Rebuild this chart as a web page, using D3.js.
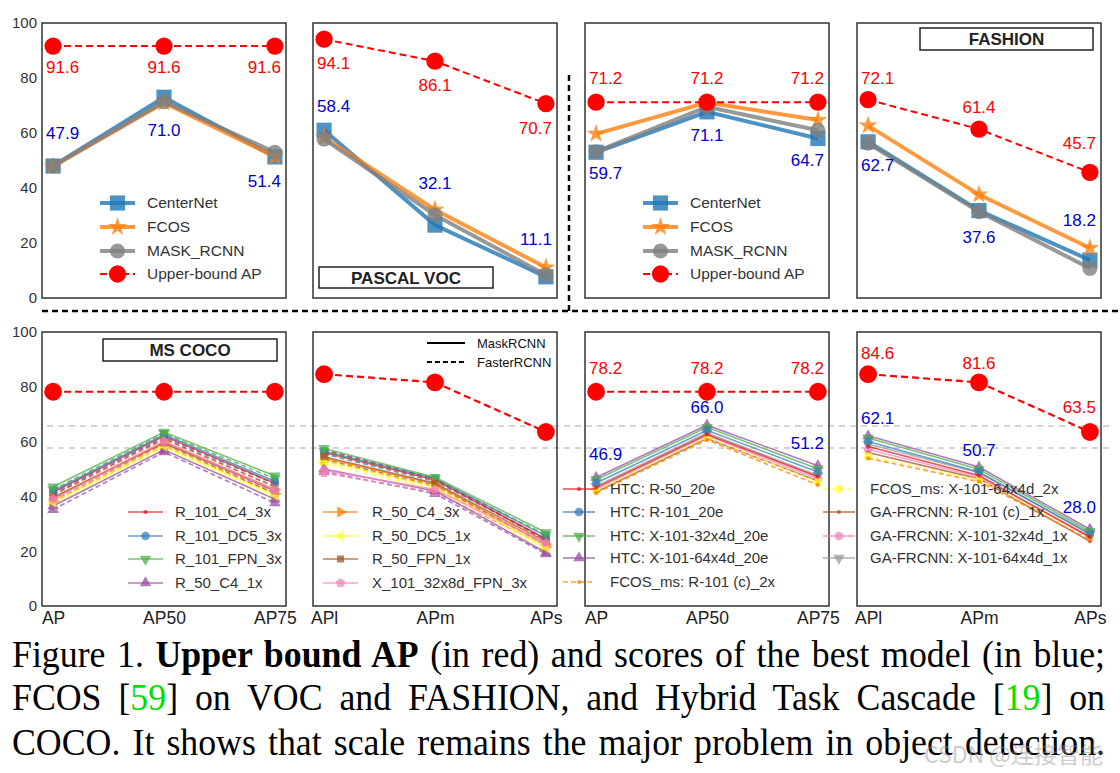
<!DOCTYPE html>
<html>
<head>
<meta charset="utf-8">
<script src="https://cdn.jsdelivr.net/npm/d3@7"></script>
<style>
  body { margin: 0; background: #fff; }
  svg { display: block; }
</style>
</head>
<body>
<div id="mountNode"></div>
<script>
// ---- categories / ticks
const apCats = ["AP", "AP50", "AP75"];
const sizeCats = ["APl", "APm", "APs"];
const yTicks = [0, 20, 40, 60, 80, 100];

// ---- top row (VOC + FASHION), CenterNet / FCOS / MASK_RCNN / upper bound
const topSeries = ["CenterNet", "FCOS", "MASK_RCNN", "Upper-bound AP"];
const vocApCenterNet = [48.0, 73.0, 51.3];
const vocApFcos = [47.9, 71.0, 51.4];
const vocApMask = [48.0, 71.4, 53.0];
const vocApUpper = [91.6, 91.6, 91.6];
const vocSizeCenterNet = [61.0, 26.5, 7.7];
const vocSizeFcos = [58.4, 32.1, 11.1];
const vocSizeMask = [57.8, 30.2, 8.4];
const vocSizeUpper = [94.1, 86.1, 70.7];
const fashionApCenterNet = [53.0, 67.7, 58.0];
const fashionApFcos = [59.7, 71.1, 64.7];
const fashionApMask = [53.2, 69.5, 61.0];
const fashionApUpper = [71.2, 71.2, 71.2];
const fashionSizeCenterNet = [56.8, 31.8, 13.8];
const fashionSizeFcos = [62.7, 37.6, 18.2];
const fashionSizeMask = [56.3, 31.4, 10.8];
const fashionSizeUpper = [72.1, 61.4, 45.7];

// ---- bottom row (MS COCO)
const cocoApUpper = [78.2, 78.2, 78.2];
const cocoSizeUpper = [84.6, 81.6, 63.5];

// detectron2 models, solid = MaskRCNN, dashed = FasterRCNN
const d2Models = ["R_101_C4_3x", "R_101_DC5_3x", "R_101_FPN_3x", "R_50_C4_1x",
  "R_50_C4_3x", "R_50_DC5_1x", "R_50_FPN_1x", "X_101_32x8d_FPN_3x"];
const d2MaskAp = [
  [41.5, 62.0, 44.8], [42.0, 62.5, 45.5], [43.5, 63.5, 47.5], [36.5, 57.0, 39.0],
  [39.5, 60.0, 42.5], [38.0, 58.5, 40.5], [39.5, 59.5, 42.0], [39.0, 60.0, 42.3]];
const d2FasterAp = [
  [40.5, 61.0, 43.5], [41.0, 61.5, 44.5], [42.5, 63.0, 46.5], [35.2, 56.2, 37.6],
  [38.3, 59.2, 41.0], [37.0, 57.8, 39.8], [38.0, 58.5, 41.0], [38.5, 59.5, 41.5]];
const d2MaskSize = [
  [56.0, 46.0, 24.5], [56.5, 46.5, 25.5], [57.5, 47.0, 26.8], [50.0, 42.0, 19.5],
  [54.0, 44.5, 22.5], [53.0, 43.5, 21.5], [54.5, 44.8, 23.5], [49.5, 42.5, 23.0]];
const d2FasterSize = [
  [57.0, 46.5, 24.0], [55.5, 45.5, 24.5], [56.5, 46.2, 26.0], [49.0, 41.0, 19.0],
  [53.0, 43.5, 21.5], [52.0, 42.5, 20.5], [53.5, 44.0, 22.5], [48.5, 41.5, 22.0]];

// mmdetection models (HTC best)
const mmModels = ["HTC: R-50_20e", "HTC: R-101_20e", "HTC: X-101-32x4d_20e", "HTC: X-101-64x4d_20e",
  "FCOS_ms: R-101 (c)_2x", "FCOS_ms: X-101-64x4d_2x", "GA-FRCNN: R-101 (c)_1x",
  "GA-FRCNN: X-101-32x4d_1x", "GA-FRCNN: X-101-64x4d_1x"];
const mmAp = [
  [43.2, 62.6, 47.2], [44.9, 64.1, 48.9], [46.1, 65.2, 50.1], [46.9, 66.0, 51.2],
  [41.2, 60.6, 44.2], [42.2, 61.6, 45.2], [41.6, 61.2, 45.6], [42.6, 62.2, 46.4], [43.7, 63.2, 47.6]];
const mmSize = [
  [58.2, 47.6, 25.2], [60.0, 48.9, 26.2], [61.3, 49.9, 27.2], [62.1, 50.7, 28.0],
  [53.9, 45.4, 24.2], [54.6, 46.1, 25.6], [56.0, 46.4, 23.6], [57.1, 47.1, 25.1], [59.1, 48.6, 26.6]];
const mmBest = 3;

// gray reference lines on COCO row
const cocoGuides = [65.7, 57.7];

// ================= drawing
const W = 1120, H = 773;
const FONT = "'Liberation Sans', Arial, sans-serif";
const svg = d3.select("#mountNode").append("svg").attr("width", W).attr("height", H);

const colX = [42, 313, 585, 857], panelW = 244;
const rowY = [23, 332], panelH = [275, 274];

// pentagon marker
const symbolPentagon = {
  draw(ctx, size) {
    const r = Math.sqrt(size / 2.378);
    for (let i = 0; i < 5; i++) {
      const a = -Math.PI / 2 + i * 2 * Math.PI / 5;
      i ? ctx.lineTo(r * Math.cos(a), r * Math.sin(a)) : ctx.moveTo(r * Math.cos(a), r * Math.sin(a));
    }
    ctx.closePath();
  }
};
const markers = {
  square: [d3.symbolSquare, 0], star: [d3.symbolStar, 0], circle: [d3.symbolCircle, 0],
  dot: [d3.symbolCircle, 0], triUp: [d3.symbolTriangle, 0], triDown: [d3.symbolTriangle, 180],
  triRight: [d3.symbolTriangle, 90], triLeft: [d3.symbolTriangle, -90], pent: [symbolPentagon, 0]
};

function marker(g, mk, size, x, y, color, op) {
  const [type, rot] = markers[mk];
  g.append("path")
    .attr("d", d3.symbol(type, size)())
    .attr("transform", `translate(${x},${y}) rotate(${rot})`)
    .attr("fill", color).attr("fill-opacity", op);
}

function drawSeries(g, x, y, cats, vals, st) {
  const line = d3.line().x((d, i) => x(cats[i])).y(d => y(d));
  g.append("path").attr("d", line(vals))
    .attr("fill", "none").attr("stroke", st.color).attr("stroke-width", st.width)
    .attr("stroke-opacity", st.op).attr("stroke-dasharray", st.dash || null);
  vals.forEach((v, i) => marker(g, st.mk, st.size, x(cats[i]), y(v), st.color, st.op));
}

function legend(g, items, x0, x1, textX, ys, fs) {
  items.forEach((st, i) => {
    g.append("line").attr("x1", x0).attr("x2", x1).attr("y1", ys[i]).attr("y2", ys[i])
      .attr("stroke", st.color).attr("stroke-width", st.width).attr("stroke-opacity", st.op)
      .attr("stroke-dasharray", st.dash || null);
    marker(g, st.mk, st.size, (x0 + x1) / 2, ys[i], st.color, st.op);
    g.append("text").attr("x", textX).attr("y", ys[i]).attr("dy", "0.35em")
      .style("font-family", FONT).style("font-size", fs + "px").attr("fill", "#333").text(st.name);
  });
}

function titleBox(g, label, x0, y0, x1, y1) {
  g.append("rect").attr("x", x0).attr("y", y0).attr("width", x1 - x0).attr("height", y1 - y0)
    .attr("fill", "#fff").attr("stroke", "#222").attr("stroke-width", 1.5);
  g.append("text").attr("x", (x0 + x1) / 2).attr("y", (y0 + y1) / 2).attr("dy", "0.36em")
    .attr("text-anchor", "middle").style("font-family", FONT).style("font-size", "17px")
    .style("font-weight", "bold").attr("fill", "#222").text(label);
}

const anchors = ["start", "middle", "end"], anchorDx = [-7, 0, 6];
function valueLabels(g, x, y, cats, vals, dys, color) {
  vals.forEach((v, i) => {
    g.append("text").attr("x", x(cats[i]) + anchorDx[i]).attr("y", y(v) + dys[i]).attr("dy", "0.36em")
      .attr("text-anchor", anchors[i]).style("font-family", FONT).style("font-size", "17px")
      .attr("fill", color).text(v.toFixed(1));
  });
}

function scales(col, row, cats) {
  const x = d3.scalePoint().domain(cats).range([colX[col], colX[col] + panelW]).padding(0.1);
  const y = d3.scaleLinear().domain([0, 100]).range([rowY[row] + panelH[row], rowY[row]]);
  return { x, y };
}

// gray guides first (behind everything)
{
  const y = d3.scaleLinear().domain([0, 100]).range([rowY[1] + panelH[1], rowY[1]]);
  cocoGuides.forEach(v => svg.append("line").attr("x1", 47).attr("x2", 1112)
    .attr("y1", y(v)).attr("y2", y(v)).attr("stroke", "#c8c8c8").attr("stroke-width", 1.5)
    .attr("stroke-dasharray", "6,5"));
}

// frames + y axis
[0, 1].forEach(row => {
  colX.forEach(cx => svg.append("rect").attr("x", cx).attr("y", rowY[row]).attr("width", panelW)
    .attr("height", panelH[row]).attr("fill", "none").attr("stroke", "#333").attr("stroke-width", 1.5));
  const y = d3.scaleLinear().domain([0, 100]).range([rowY[row] + panelH[row], rowY[row]]);
  const ax = svg.append("g").attr("transform", `translate(${colX[0]},0)`)
    .call(d3.axisLeft(y).tickValues(yTicks).tickSize(0).tickPadding(5));
  ax.select(".domain").remove();
  ax.selectAll("text").style("font-family", FONT).style("font-size", "15px").attr("fill", "#333");
});

// x axis labels, bottom row
[apCats, sizeCats, apCats, sizeCats].forEach((cats, c) => {
  const { x } = scales(c, 1, cats);
  const ax = svg.append("g").attr("transform", `translate(0,${rowY[1] + panelH[1]})`)
    .call(d3.axisBottom(x).tickSize(0).tickPadding(6));
  ax.select(".domain").remove();
  ax.selectAll("text").style("font-family", FONT).style("font-size", "17.5px").attr("fill", "#222");
});

// ---- top row
const topStyles = [
  { name: topSeries[0], color: "#1f77b4", mk: "square", size: 230, width: 4, op: 0.8 },
  { name: topSeries[1], color: "#ff7f0e", mk: "star", size: 110, width: 4, op: 0.8 },
  { name: topSeries[2], color: "#7f7f7f", mk: "circle", size: 180, width: 4, op: 0.8 },
  { name: topSeries[3], color: "#ff0000", mk: "circle", size: 235, width: 2, op: 1, dash: "7,4" }
];
const topPanels = [
  { col: 0, cats: apCats, data: [vocApCenterNet, vocApFcos, vocApMask, vocApUpper],
    redDy: [21, 21, 21], blueDy: [-33, 27, 24], legend: [100, 135, 147] },
  { col: 1, cats: sizeCats, data: [vocSizeCenterNet, vocSizeFcos, vocSizeMask, vocSizeUpper],
    redDy: [24, 24, 24], blueDy: [-32, -27, -29] },
  { col: 2, cats: apCats, data: [fashionApCenterNet, fashionApFcos, fashionApMask, fashionApUpper],
    redDy: [-24, -24, -24], blueDy: [39, 32, 40], legend: [643, 678, 690] },
  { col: 3, cats: sizeCats, data: [fashionSizeCenterNet, fashionSizeFcos, fashionSizeMask, fashionSizeUpper],
    redDy: [-22, -22, -29], blueDy: [39, 42, -28] }
];
topPanels.forEach(p => {
  const g = svg.append("g");
  const { x, y } = scales(p.col, 0, p.cats);
  p.data.forEach((vals, i) => drawSeries(g, x, y, p.cats, vals, topStyles[i]));
  valueLabels(g, x, y, p.cats, p.data[3], p.redDy, "#ff0000");
  valueLabels(g, x, y, p.cats, p.data[1], p.blueDy, "#0000cd");
  if (p.legend) legend(g, topStyles, p.legend[0], p.legend[1], p.legend[2], [203, 227, 251, 274], 15.5);
});
titleBox(svg, "PASCAL VOC", 319, 267, 493, 288);
titleBox(svg, "FASHION", 920, 28, 1093, 50);

// ---- bottom row
const set1 = ["#e41a1c", "#377eb8", "#4daf4a", "#984ea3", "#ff7f00", "#ffff33", "#a65628", "#f781bf", "#999999"];
const d2Marks = ["dot", "circle", "triDown", "triUp", "triRight", "triLeft", "square", "pent"];
const mmMarks = ["dot", "circle", "triDown", "triUp", "dot", "circle", "dot", "circle", "triDown"];
const mSize = mk => mk === "dot" ? 14 : (mk === "square" ? 50 : 58);
const upperStyle = { color: "#ff0000", mk: "circle", size: 250, width: 2.2, op: 1, dash: "7,4" };

const d2Solid = d2Models.map((n, i) => ({ name: n, color: set1[i], mk: d2Marks[i], size: mSize(d2Marks[i]), width: 1.6, op: 0.75 }));
const d2Dash = d2Solid.map(s => Object.assign({}, s, { dash: "5,3" }));
const mmStyles = mmModels.map((n, i) => ({ name: n, color: set1[i], mk: mmMarks[i], size: mSize(mmMarks[i]),
  width: 1.6, op: 0.75, dash: (i === 4 || i === 5) ? "5,3" : null }));

const legRows = [512, 536, 559, 583];
const mmRows = [489, 512, 536, 558, 582];

// panel 1: COCO AP
{
  const g = svg.append("g");
  const { x, y } = scales(0, 1, apCats);
  d2Dash.forEach((s, i) => drawSeries(g, x, y, apCats, d2FasterAp[i], s));
  d2Solid.forEach((s, i) => drawSeries(g, x, y, apCats, d2MaskAp[i], s));
  drawSeries(g, x, y, apCats, cocoApUpper, upperStyle);
  legend(g, d2Solid.slice(0, 4), 128, 163, 175, legRows, 15);
  titleBox(g, "MS COCO", 103, 339, 277, 361);
}
// panel 2: COCO size
{
  const g = svg.append("g");
  const { x, y } = scales(1, 1, sizeCats);
  d2Dash.forEach((s, i) => drawSeries(g, x, y, sizeCats, d2FasterSize[i], s));
  d2Solid.forEach((s, i) => drawSeries(g, x, y, sizeCats, d2MaskSize[i], s));
  drawSeries(g, x, y, sizeCats, cocoSizeUpper, upperStyle);
  legend(g, d2Solid.slice(4), 323, 358, 372, legRows, 15);
  [["MaskRCNN", null, 343], ["FasterRCNN", "5,3", 362]].forEach(([t, dash, ly]) => {
    g.append("line").attr("x1", 427).attr("x2", 465).attr("y1", ly).attr("y2", ly)
      .attr("stroke", "#000").attr("stroke-width", 2).attr("stroke-dasharray", dash);
    g.append("text").attr("x", 477).attr("y", ly).attr("dy", "0.35em").style("font-family", FONT)
      .style("font-size", "13px").attr("fill", "#111").text(t);
  });
}
// panels 3, 4: mmdetection
[[2, apCats, mmAp, cocoApUpper, [-24, -24, -24], [-24, -18, -23]],
 [3, sizeCats, mmSize, cocoSizeUpper, [-21, -20, -25], [-18, -17, -22]]].forEach(([col, cats, rows, upper, rDy, bDy]) => {
  const g = svg.append("g");
  const { x, y } = scales(col, 1, cats);
  mmStyles.slice().reverse().forEach((s, k) => {
    const i = mmStyles.length - 1 - k;
    drawSeries(g, x, y, cats, rows[i], s);
  });
  drawSeries(g, x, y, cats, upper, upperStyle);
  valueLabels(g, x, y, cats, upper, rDy, "#ff0000");
  valueLabels(g, x, y, cats, rows[mmBest], bDy, "#0000cd");
});
legend(svg.append("g"), mmStyles.slice(0, 5), 563, 595, 610, mmRows, 15);
legend(svg.append("g"), mmStyles.slice(5), 823, 855, 870, mmRows, 15);

// ---- separators
svg.append("line").attr("x1", 42).attr("x2", W).attr("y1", 311).attr("y2", 311)
  .attr("stroke", "#000").attr("stroke-width", 2.5).attr("stroke-dasharray", "6,4");
svg.append("line").attr("x1", 569).attr("x2", 569).attr("y1", 75).attr("y2", 311)
  .attr("stroke", "#000").attr("stroke-width", 2.5).attr("stroke-dasharray", "6,4");

// ---- caption (justified, slightly condensed like the scanned figure)
const captionLines = [
  [{ t: "Figure 1. " }, { t: "Upper bound AP", b: true }, { t: " (in red) and scores of the best model (in blue;" }],
  [{ t: "FCOS [" }, { t: "59", c: "#00e000" }, { t: "] on VOC and FASHION, and Hybrid Task Cascade [" }, { t: "19", c: "#00e000" }, { t: "] on" }],
  [{ t: "COCO. It shows that scale remains the major problem in object detection." }]
];
const capBase = [667, 710, 755];
const capScale = 0.93, capLeft = 12, capWidth = 1093;
captionLines.forEach((parts, li) => {
  const t = svg.append("text")
    .attr("transform", `translate(${capLeft},${capBase[li]}) scale(${capScale},1)`)
    .style("font-family", "'Liberation Serif', 'Times New Roman', serif").style("font-size", "38.5px")
    .style("white-space", "pre").attr("fill", "#000");
  parts.forEach(p => t.append("tspan").text(p.t).style("font-weight", p.b ? "bold" : null).attr("fill", p.c || null));
  const full = parts.map(p => p.t).join("");
  const spaces = (full.match(/ /g) || []).length;
  const len = t.node().getComputedTextLength();
  t.style("word-spacing", ((capWidth / capScale - len) / spaces) + "px");
});

// watermark
svg.append("text").attr("x", 924).attr("y", 763)
  .style("font-family", "'Noto Sans CJK SC', 'Noto Sans', sans-serif").style("font-size", "23px")
  .attr("fill", "#999").attr("fill-opacity", 0.5).text("CSDN @连接智能");
</script>
</body>
</html>
